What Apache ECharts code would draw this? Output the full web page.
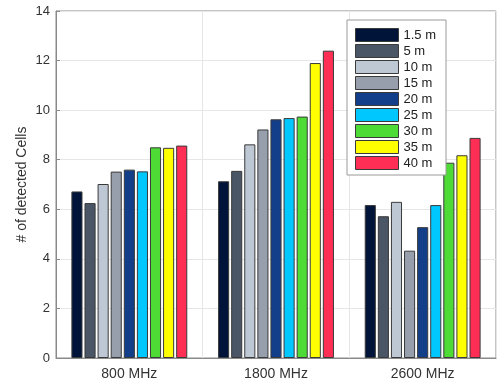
<!DOCTYPE html>
<html>
<head>
<meta charset="utf-8">
<script src="https://cdn.jsdelivr.net/npm/echarts@6/dist/echarts.min.js"></script>
<style>
  html, body { margin: 0; padding: 0; background: #fff; }
  #chart { width: 498px; height: 386px; }
</style>
</head>
<body>
<div id="chart"></div>
<script>
// categories on the x axis
var bands = ['800 MHz', '1800 MHz', '2600 MHz'];
// antenna heights (legend)
var heights = ['1.5 m', '5 m', '10 m', '15 m', '20 m', '25 m', '30 m', '35 m', '40 m'];
// detected cells per height, one value per band
var h1_5 = [6.72, 7.13, 6.17];
var h5   = [6.25, 7.55, 5.72];
var h10  = [7.02, 8.62, 6.3];
var h15  = [7.52, 9.22, 4.33];
var h20  = [7.6, 9.63, 5.28];
var h25  = [7.53, 9.68, 6.17];
var h30  = [8.5, 9.74, 7.88];
var h35  = [8.48, 11.9, 8.18];
var h40  = [8.57, 12.4, 8.88];
var yTicks = [0, 2, 4, 6, 8, 10, 12, 14];

var allValues = [h1_5, h5, h10, h15, h20, h25, h30, h35, h40];
var colors = ['#00143a', '#4a5566', '#bec8d4', '#979fac', '#133f8a',
              '#00c8ff', '#4fdb36', '#ffff00', '#ff2e55'];

var font = '"Liberation Sans", Arial, Helvetica, sans-serif';
var axisGray = '#8a8a8a';

var series = [];
for (var i = 0; i < heights.length; i++) {
  series.push({
    name: heights[i],
    type: 'bar',
    data: allValues[i],
    barGap: '18%',
    barCategoryGap: '21%',
    itemStyle: { color: colors[i], borderColor: '#3a3a3a', borderWidth: 1 }
  });
}

var chart = echarts.init(document.getElementById('chart'));
chart.setOption({
  animation: false,
  textStyle: { fontFamily: font },
  grid: {
    left: 56, right: 2, top: 11, bottom: 28,
    show: true, borderColor: axisGray, borderWidth: 1, backgroundColor: 'transparent'
  },
  legend: {
    orient: 'vertical',
    left: 347, top: 20,
    itemWidth: 43, itemHeight: 13, itemGap: 2,
    padding: [8, 10, 5, 8],
    backgroundColor: '#fff',
    borderColor: '#9a9a9a', borderWidth: 1,
    icon: 'rect',
    itemStyle: { borderColor: '#3a3a3a', borderWidth: 1 },
    textStyle: { fontSize: 13, color: '#222', fontFamily: font },
    data: heights
  },
  xAxis: {
    type: 'category',
    data: bands,
    axisLine: { lineStyle: { color: axisGray } },
    axisTick: { show: false },
    axisLabel: { fontSize: 14, color: '#333', margin: 9 },
    splitLine: { show: true, lineStyle: { color: '#e6e6e6' } },
    splitArea: { show: false }
  },
  yAxis: {
    type: 'value',
    min: yTicks[0], max: yTicks[yTicks.length - 1], interval: 2,
    name: '# of detected Cells',
    nameLocation: 'middle',
    nameGap: 27,
    nameMoveOverlap: false,
    nameTextStyle: { fontSize: 14, color: '#333' },
    axisLine: { show: true, lineStyle: { color: axisGray } },
    axisTick: { show: true, inside: true, length: 4, lineStyle: { color: axisGray } },
    axisLabel: { fontSize: 13, color: '#333', margin: 6 },
    splitLine: { lineStyle: { color: '#e6e6e6' } }
  },
  series: series
});
</script>
</body>
</html>
